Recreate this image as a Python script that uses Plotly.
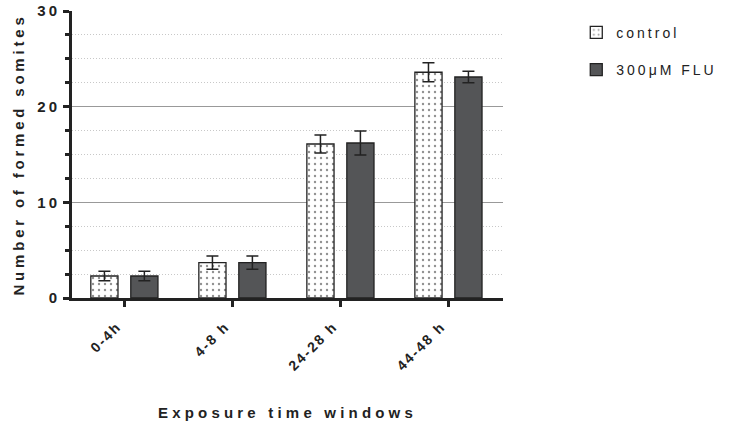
import plotly.graph_objects as go

categories = ["0-4h", "4-8 h", "24-28 h", "44-48 h"]
control_mean = [2.3, 3.7, 16.1, 23.6]
control_err = [0.5, 0.7, 0.95, 1.0]
flu_mean = [2.3, 3.7, 16.2, 23.1]
flu_err = [0.5, 0.7, 1.25, 0.6]
series_names = ["control", "300\u03bcM FLU"]
y_ticks = [0, 10, 20, 30]

FONT = "Arial, Liberation Sans, sans-serif"

def spaced(t, ls=2):
    return f'<span style="letter-spacing:{ls}px">{t}</span>'

fig = go.Figure()
fig.add_trace(go.Bar(
    x=categories, y=control_mean, name=spaced(series_names[0], 3), legendgroup="a",
    marker=dict(color="white", line=dict(color="#222", width=1.3),
                pattern=dict(shape=".", fgcolor="#222", bgcolor="white", size=6, solidity=0.12)),
    error_y=dict(type="data", array=control_err, visible=True, color="#222", thickness=1.5, width=6),
))
fig.add_trace(go.Bar(
    x=categories, y=flu_mean, name=spaced(series_names[1], 3), legendgroup="b",
    marker=dict(color="#545557", line=dict(color="#222", width=1.3)),
    error_y=dict(type="data", array=flu_err, visible=True, color="#222", thickness=1.5, width=6),
))

fig.update_layout(
    width=734, height=424,
    margin=dict(l=72, r=231, t=11, b=126),
    paper_bgcolor="white", plot_bgcolor="white",
    barmode="group", bargap=0.26, bargroupgap=0.32,
    font=dict(family=FONT, size=13, color="#222"),
    legend=dict(x=1.17, y=0.98, xanchor="left", yanchor="top",
                font=dict(size=14, color="#222"), tracegroupgap=16,
                itemwidth=30, traceorder="grouped"),
    xaxis=dict(
        type="category", range=[-0.485, 3.505], automargin=False,
        tickvals=categories, ticktext=[spaced(c, 2) for c in categories],
        showline=True, linecolor="#222", linewidth=2.5,
        ticks="outside", ticklen=6, tickwidth=2.5, tickcolor="#222",
        tickangle=-45, tickfont=dict(size=14, family=FONT, weight="bold"),
        ticklabelstandoff=6, ticklabelshift=-7,
        showgrid=False, zeroline=False,
        title=dict(text=spaced("Exposure time windows", 4.2), font=dict(size=15, weight="bold"), standoff=35),
    ),
    yaxis=dict(
        range=[0, 30], automargin=False,
        tickvals=y_ticks, ticktext=[spaced(str(v), 3) for v in y_ticks],
        showline=True, linecolor="#222", linewidth=3,
        ticks="outside", ticklen=6, tickwidth=3, tickcolor="#222",
        tickfont=dict(size=15, family=FONT, weight="bold"),
        showgrid=True, gridcolor="#999", gridwidth=1,
        zeroline=False,
        minor=dict(dtick=2.5, showgrid=True, griddash="1px,2px", gridcolor="#c8c8c8", gridwidth=1,
                   ticks="outside", ticklen=4, tickwidth=2.5, tickcolor="#222"),
        title=dict(text=spaced("Number of formed somites", 3.8), font=dict(size=15, weight="bold"), standoff=10),
    ),
)

fig.write_html("out.html", config={"displayModeBar": False},
               post_script="document.body.style.margin='0';")
